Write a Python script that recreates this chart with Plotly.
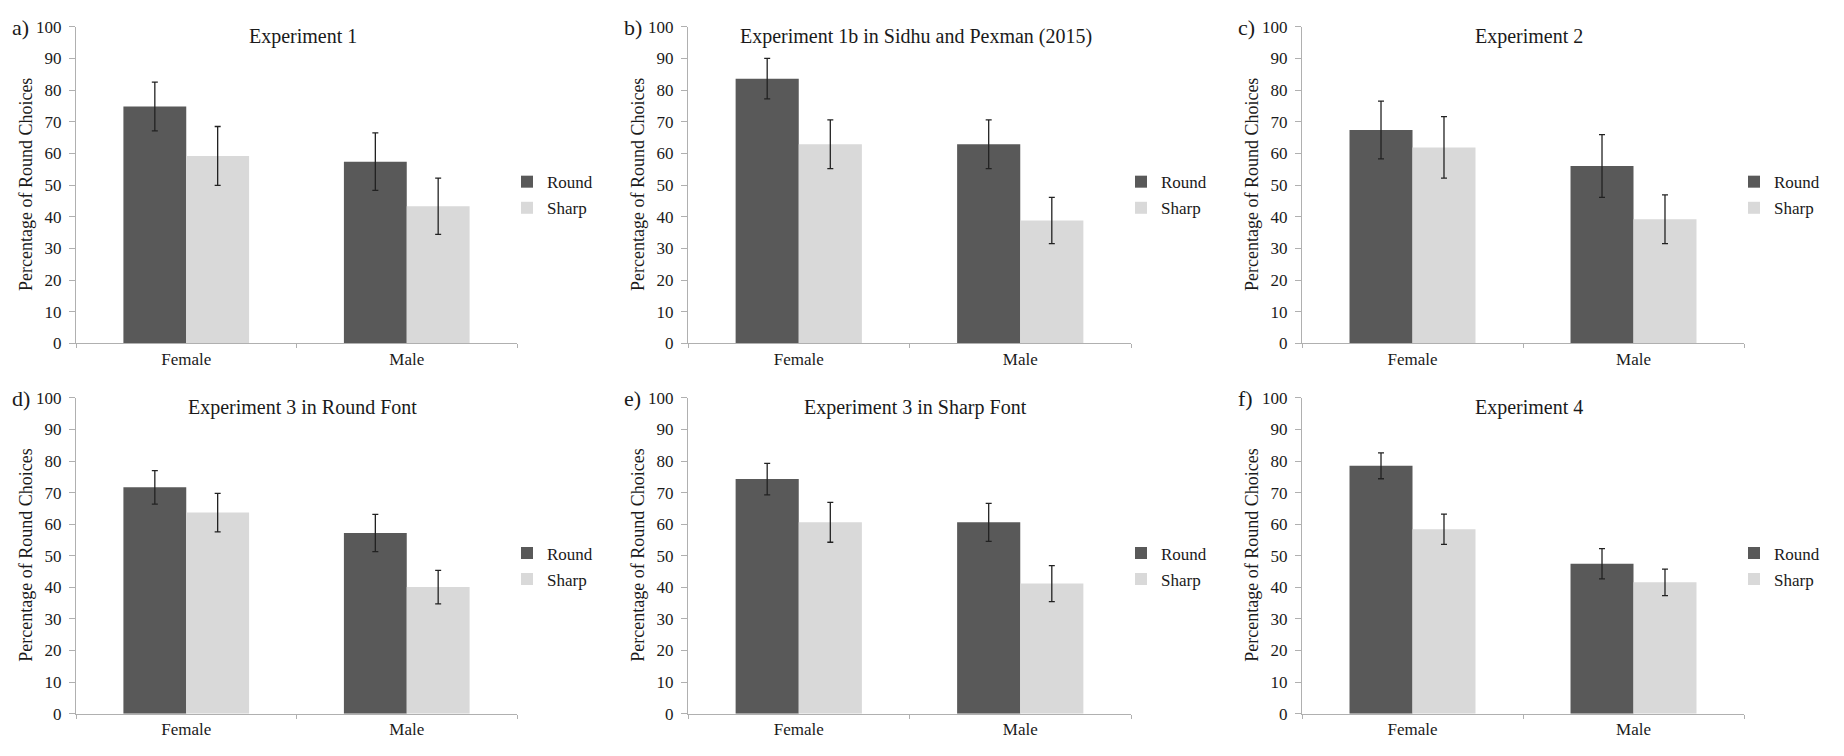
import plotly.graph_objects as go

# ---------------- data ----------------
categories = ["Female", "Male"]
series_names = ["Round", "Sharp"]
panel_letters = ["a)", "b)", "c)", "d)", "e)", "f)"]
panel_titles = [
    "Experiment 1",
    "Experiment 1b in Sidhu and Pexman (2015)",
    "Experiment 2",
    "Experiment 3 in Round Font",
    "Experiment 3 in Sharp Font",
    "Experiment 4",
]
round_vals = [[74.8, 57.4], [83.6, 62.9], [67.4, 56.0], [71.7, 57.2], [74.3, 60.6], [78.5, 47.5]]
round_err = [[7.7, 9.1], [6.4, 7.7], [9.1, 9.9], [5.3, 5.9], [5.0, 6.0], [4.1, 4.8]]
sharp_vals = [[59.2, 43.3], [62.9, 38.8], [61.9, 39.2], [63.7, 40.1], [60.6, 41.2], [58.4, 41.6]]
sharp_err = [[9.3, 8.9], [7.7, 7.3], [9.7, 7.7], [6.1, 5.3], [6.3, 5.7], [4.8, 4.2]]
y_ticks = [0, 10, 20, 30, 40, 50, 60, 70, 80, 90, 100]
y_title = "Percentage of Round Choices"

# ---------------- style ----------------
PAGE_W, PAGE_H = 1844, 756
OFF = 8  # default body margin of the html page
W, H = PAGE_W - 2 * OFF, PAGE_H - 2 * OFF
FONT = "Liberation Serif, Times New Roman, serif"
DARK = "#595959"
LIGHT = "#d9d9d9"
AXIS = "#b0b0b0"
TXT = "#1a1a1a"


def px(x):
    return (x - OFF) / W


def py(y):
    return 1 - (y - OFF) / H


col_px = [(76, 517), (688, 1131), (1302, 1744)]
row_px = [(18, 343), (399, 723)]  # page y of 100 and 0

fig = go.Figure()
layout = dict(
    width=W, height=H,
    margin=dict(l=0, r=0, t=0, b=0),
    paper_bgcolor="white", plot_bgcolor="white",
    font=dict(family=FONT, color=TXT),
    barmode="group", bargap=0.43, bargroupgap=0,
    showlegend=True,
    annotations=[],
)

for i in range(6):
    r, c = divmod(i, 3)
    n = "" if i == 0 else str(i + 1)
    xa, ya = "x" + n, "y" + n
    lg = "legend" + n
    x0, x1 = col_px[c]
    ytop, ybot = row_px[r]

    fig.add_trace(go.Bar(
        x=categories, y=round_vals[i], name=series_names[0],
        marker=dict(color=DARK, line=dict(width=0)),
        error_y=dict(type="data", array=round_err[i], color="#222222", thickness=1.3, width=3),
        xaxis=xa, yaxis=ya, legend=lg, legendgroup="r" + n,
    ))
    fig.add_trace(go.Bar(
        x=categories, y=sharp_vals[i], name=series_names[1],
        marker=dict(color=LIGHT, line=dict(width=0)),
        error_y=dict(type="data", array=sharp_err[i], color="#222222", thickness=1.3, width=3),
        xaxis=xa, yaxis=ya, legend=lg, legendgroup="s" + n,
    ))

    layout["xaxis" + n] = dict(
        domain=[px(x0), px(x1)], anchor=ya, type="category",
        showline=True, linecolor=AXIS, linewidth=1,
        ticks="outside", tickson="boundaries", ticklen=4, tickcolor=AXIS,
        showgrid=False, zeroline=False,
        tickfont=dict(family=FONT, size=17, color=TXT),
    )
    layout["yaxis" + n] = dict(
        domain=[py(ybot), py(ytop)], anchor=xa, range=[0, 100], tickvals=y_ticks,
        showline=True, linecolor=AXIS, linewidth=1,
        ticks="outside", ticklen=6, tickcolor=AXIS, ticklabelstandoff=4,
        showgrid=False, zeroline=False,
        tickfont=dict(family=FONT, size=17, color=TXT),
    )
    layout[lg] = dict(
        x=px(x1 - 10), xanchor="left",
        y=py(ytop + 141), yanchor="top",
        bgcolor="rgba(0,0,0,0)", borderwidth=0,
        font=dict(family=FONT, size=17, color=TXT),
        traceorder="grouped", tracegroupgap=1,
        itemwidth=30,
    )
    # y-axis title
    layout["annotations"].append(dict(
        text=y_title, xref="paper", yref="paper",
        x=px(x0 - 50), y=py((ytop + ybot) / 2), xanchor="center", yanchor="middle",
        textangle=-90, showarrow=False, font=dict(family=FONT, size=18, color=TXT),
    ))
    # panel letter
    layout["annotations"].append(dict(
        text=panel_letters[i], xref="paper", yref="paper",
        x=px(x0 - 66), y=py(ytop + 1), xanchor="left", yanchor="middle",
        showarrow=False, font=dict(family=FONT, size=22, color=TXT),
    ))
    # panel title
    layout["annotations"].append(dict(
        text=panel_titles[i], xref="paper", yref="paper",
        x=px((x0 + x1) / 2 + 6), y=py(ytop + 10), xanchor="center", yanchor="middle",
        showarrow=False, font=dict(family=FONT, size=20, color=TXT),
    ))

fig.update_layout(**layout)
fig.write_html("out.html")
